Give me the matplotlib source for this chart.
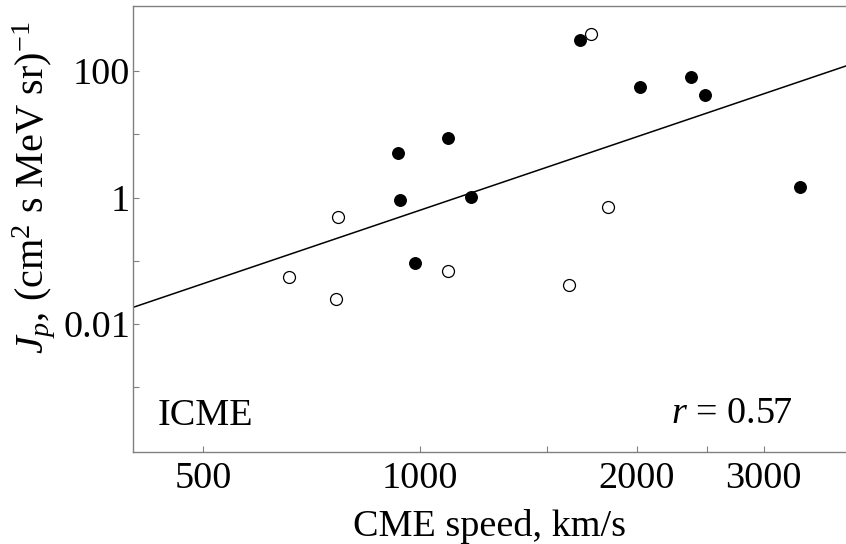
import numpy as np
import matplotlib
matplotlib.use("Agg")
import matplotlib.pyplot as plt
from matplotlib.ticker import NullFormatter

plt.rcParams['font.family'] = ['Liberation Serif', 'DejaVu Serif']
plt.rcParams['mathtext.fontset'] = 'custom'
plt.rcParams['mathtext.rm'] = 'Liberation Serif'
plt.rcParams['mathtext.it'] = 'Liberation Serif:italic'

# filled circles
speed_filled = [933, 937, 985, 1095, 1177, 1665, 2017, 2379, 2489, 3365]
jp_filled = [5.1, 0.9, 0.091, 8.6, 1.02, 313, 57, 80, 42, 1.47]

# open circles
speed_open = [658, 764, 769, 1095, 1609, 1729, 1826]
jp_open = [0.056, 0.025, 0.5, 0.069, 0.042, 390, 0.71]

# regression line log10(J) = A + B*log10(V)
fit_A = -11.78
fit_B = 3.86

fig = plt.figure(figsize=(8.46, 5.44), dpi=100)
ax = fig.add_axes([133/846, 92/544, 713/846, 446/544])

v = np.array([400, 3900])
ax.plot(v, 10**(fit_A + fit_B*np.log10(v)), color='black', lw=1.1, zorder=2)

ax.plot(speed_filled, jp_filled, 'o', color='black', ms=8.3, zorder=3)
ax.plot(speed_open, jp_open, 'o', mfc='white', mec='black', mew=0.9, ms=8.6, zorder=3)

ax.set_xscale('log')
ax.set_yscale('log')
ax.set_xlim(400, 3900)
ax.set_ylim(9.5e-5, 1070)

ax.set_xticks([500, 1000, 2000, 3000])
ax.set_xticklabels(['500', '1000', '2000', '3000'])
ax.set_xticks([1500, 2500], minor=True)
ax.set_yticks([0.01, 1, 100])
ax.set_yticklabels(['0.01', '1', '100'])
ax.set_yticks([1e-3, 0.1, 10], minor=True)
ax.xaxis.set_minor_formatter(NullFormatter())
ax.yaxis.set_minor_formatter(NullFormatter())
ax.tick_params(which='both', direction='in', length=4, width=0.8, color='#808080',
               labelsize=27.5)
ax.tick_params(axis='x', pad=7)
ax.tick_params(axis='y', pad=2)

for side in ['left', 'bottom', 'top']:
    ax.spines[side].set_color('#808080')
    ax.spines[side].set_linewidth(1.0)
ax.spines['right'].set_visible(False)

ax.set_xlabel('CME speed, km/s', fontsize=27.5, labelpad=9)
fig.text(34/846, 1 - 188/544, r'$J_p$, (cm$^2$ s MeV sr)$^{-1}$', rotation=90,
         fontsize=29, ha='center', va='center')

ax.text(0.035, 0.06, 'ICME', transform=ax.transAxes, fontsize=27.5,
        ha='left', va='baseline')
ax.text(0.924, 0.065, r'$r$ = 0.57', transform=ax.transAxes, fontsize=27.5,
        ha='right', va='baseline')

fig.savefig('out.png', dpi=100)
